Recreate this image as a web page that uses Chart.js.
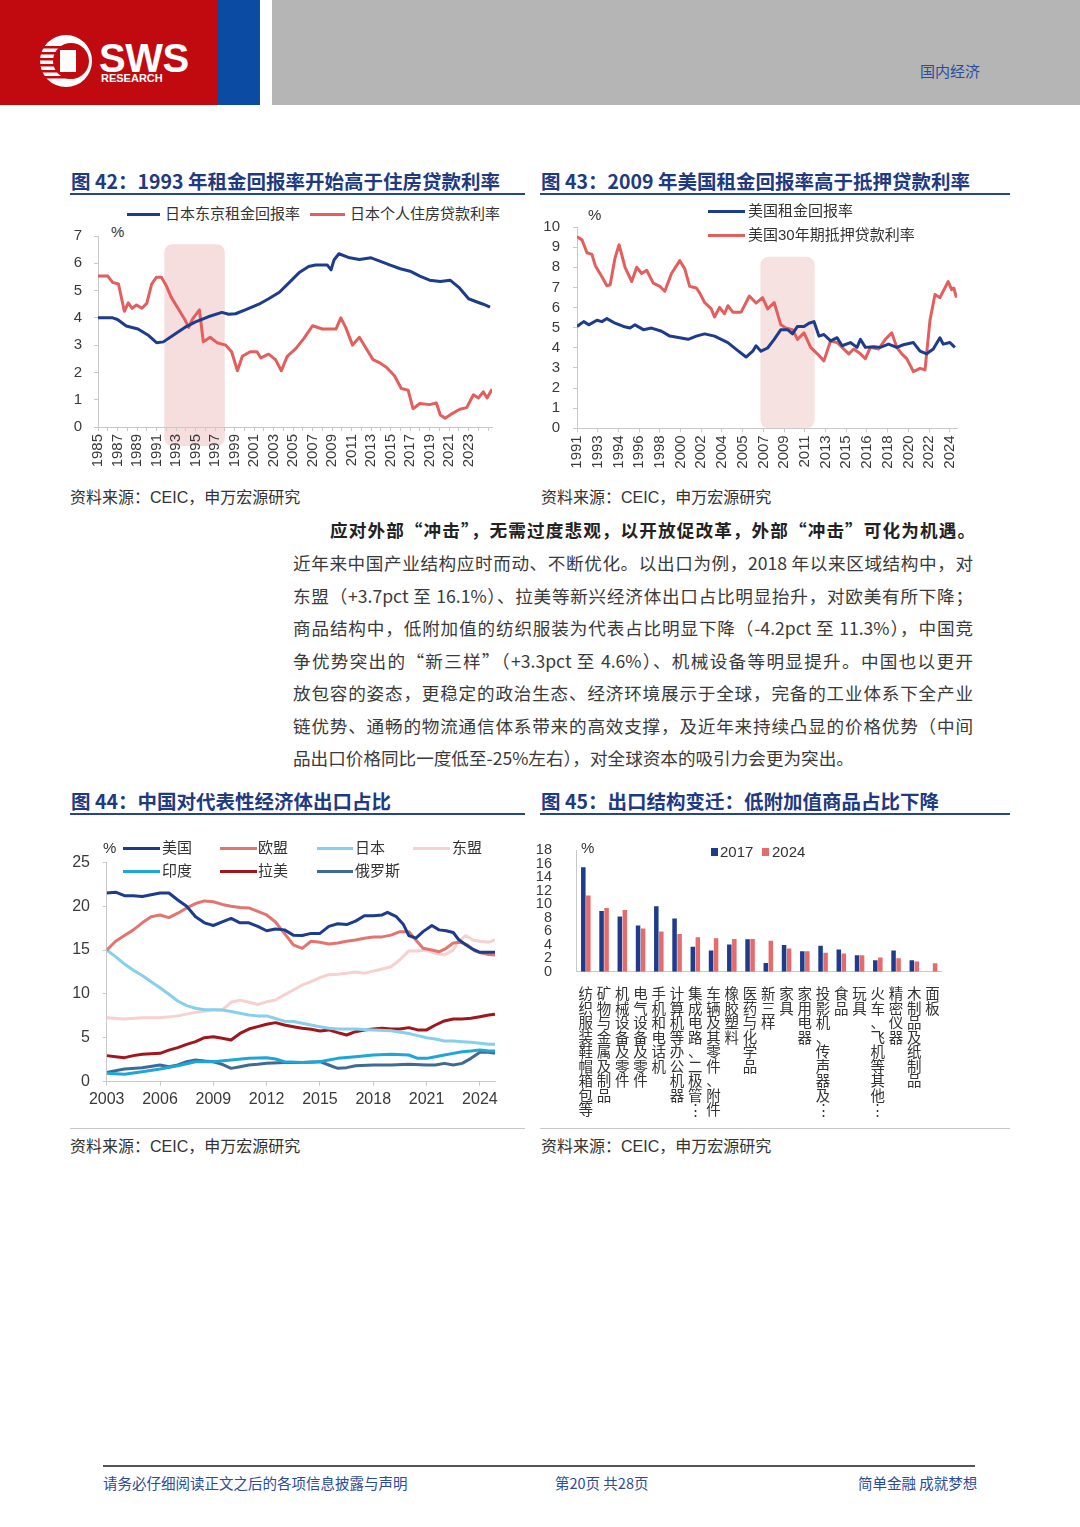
<!DOCTYPE html>
<html lang="zh-CN">
<head>
<meta charset="utf-8">
<title>国内经济</title>
<script src="https://cdn.jsdelivr.net/npm/chart.js@4.4.1/dist/chart.umd.min.js"></script>
<style>
  html, body { margin: 0; padding: 0; background: #fff; }
  body { width: 1080px; height: 1527px; position: relative; overflow: hidden;
         font-family: "Liberation Sans", "Noto Sans CJK SC", sans-serif; color: #333; }
  .abs { position: absolute; }
  .title { position: absolute; font-family: "Noto Sans CJK SC", sans-serif; font-weight: bold;
           font-size: 19.5px; line-height: 24px; color: #1f3a80; white-space: nowrap; }
  .rule { position: absolute; height: 2px; background: #27458c; }
  .src { position: absolute; font-size: 16px; line-height: 20px; color: #333; white-space: nowrap; }
  .leg { position: absolute; font-size: 15px; line-height: 18px; color: #333; white-space: nowrap; }
  .sw { position: absolute; height: 3px; }
  .para { position: absolute; left: 293px; width: 680px; font-family: "Noto Sans CJK SC", sans-serif;
          font-size: 17.6px; line-height: 26px; color: #3a3a3a; text-align: justify; text-align-last: justify; }
  .foot { position: absolute; top: 1474px; font-family: "Noto Sans CJK SC", sans-serif; font-size: 14.5px;
          line-height: 18px; color: #2b4c9c; white-space: nowrap; }
  canvas { position: absolute; }
</style>
</head>
<body>

<!-- header -->
<div class="abs" style="left:0;top:0;width:218px;height:105px;background:#c00a10"></div>
<div class="abs" style="left:218px;top:0;width:42px;height:105px;background:#0b4ba3"></div>
<div class="abs" style="left:272px;top:0;width:808px;height:105px;background:#b5b5b5"></div>
<div class="abs" style="left:920px;top:60px;font-family:'Noto Sans CJK SC';font-size:15px;color:#2b4c9c">国内经济</div>
<svg class="abs" style="left:38px;top:33px" width="60" height="56" viewBox="0 0 60 56">
  <circle cx="28" cy="28" r="26" fill="#fff"/>
  <circle cx="33" cy="28" r="18" fill="#c00a10"/>
  <rect x="22" y="17" width="16" height="22" fill="#fff"/>
  <rect x="2" y="13" width="34" height="2.5" fill="#c00a10"/>
  <rect x="2" y="19" width="20" height="2.5" fill="#c00a10"/>
  <rect x="2" y="25" width="20" height="2.5" fill="#c00a10"/>
  <rect x="2" y="31" width="20" height="2.5" fill="#c00a10"/>
  <rect x="2" y="37" width="20" height="2.5" fill="#c00a10"/>
  <rect x="2" y="43" width="34" height="2.5" fill="#c00a10"/>
</svg>
<div class="abs" style="left:99px;top:36px;font:bold 40px 'Liberation Sans Narrow','Liberation Sans';color:#fff;letter-spacing:-0.5px">SWS</div>
<div class="abs" style="left:101px;top:72px;font:bold 11px 'Liberation Sans Narrow','Liberation Sans';color:#fff">RESEARCH</div>

<!-- figure 42 -->
<div class="title" style="left:71px;top:169px">图 42：1993 年租金回报率开始高于住房贷款利率</div>
<div class="rule" style="left:70px;top:193px;width:455px"></div>
<div class="sw" style="left:127px;top:212.5px;width:33px;background:#1e3c8c"></div>
<div class="leg" style="left:165px;top:205px">日本东京租金回报率</div>
<div class="sw" style="left:310px;top:212.5px;width:35px;background:#e35f5d"></div>
<div class="leg" style="left:350px;top:205px">日本个人住房贷款利率</div>
<div class="leg" style="left:111px;top:223px">%</div>
<canvas id="c42" width="450" height="265" style="left:60px;top:215px"></canvas>
<div class="src" style="left:70px;top:488px">资料来源：CEIC，申万宏源研究</div>

<!-- figure 43 -->
<div class="title" style="left:541px;top:169px">图 43：2009 年美国租金回报率高于抵押贷款利率</div>
<div class="rule" style="left:540px;top:193px;width:470px"></div>
<canvas id="c43" width="470" height="270" style="left:530px;top:205px"></canvas>
<div class="sw" style="left:708px;top:209.5px;width:37px;background:#1e3c8c"></div>
<div class="leg" style="left:748px;top:202px">美国租金回报率</div>
<div class="sw" style="left:708px;top:233.5px;width:37px;background:#e35f5d"></div>
<div class="leg" style="left:748px;top:226px">美国30年期抵押贷款利率</div>
<div class="leg" style="left:588px;top:206px">%</div>
<div class="src" style="left:541px;top:488px">资料来源：CEIC，申万宏源研究</div>

<!-- text -->
<div class="para" style="left:330px;width:645px;top:517px;font-weight:bold;color:#222">应对外部“冲击”，无需过度悲观，以开放促改革，外部“冲击”可化为机遇。</div>
<div class="para" style="top:550px">近年来中国产业结构应时而动、不断优化。以出口为例，2018 年以来区域结构中，对</div>
<div class="para" style="top:582.5px">东盟（+3.7pct 至 16.1%）、拉美等新兴经济体出口占比明显抬升，对欧美有所下降；</div>
<div class="para" style="top:615px">商品结构中，低附加值的纺织服装为代表占比明显下降（-4.2pct 至 11.3%），中国竞</div>
<div class="para" style="top:647.5px">争优势突出的“新三样”（+3.3pct 至 4.6%）、机械设备等明显提升。中国也以更开</div>
<div class="para" style="top:680px">放包容的姿态，更稳定的政治生态、经济环境展示于全球，完备的工业体系下全产业</div>
<div class="para" style="top:713px">链优势、通畅的物流通信体系带来的高效支撑，及近年来持续凸显的价格优势（中间</div>
<div class="para" style="top:745px;text-align:left;text-align-last:left">品出口价格同比一度低至-25%左右），对全球资本的吸引力会更为突出。</div>

<!-- figure 44 -->
<div class="title" style="left:71px;top:789px">图 44：中国对代表性经济体出口占比</div>
<div class="rule" style="left:70px;top:813px;width:455px"></div>
<canvas id="c44" width="450" height="285" style="left:60px;top:840px"></canvas>
<div class="leg" style="left:103px;top:839px">%</div>
<div class="sw" style="left:123px;top:846.5px;width:37px;background:#1e3c8c"></div>
<div class="leg" style="left:162px;top:839px">美国</div>
<div class="sw" style="left:220px;top:846.5px;width:37px;background:#e2756f"></div>
<div class="leg" style="left:258px;top:839px">欧盟</div>
<div class="sw" style="left:317px;top:846.5px;width:36px;background:#86d0ec"></div>
<div class="leg" style="left:355px;top:839px">日本</div>
<div class="sw" style="left:413px;top:846.5px;width:37px;background:#f7d0d0"></div>
<div class="leg" style="left:452px;top:839px">东盟</div>
<div class="sw" style="left:123px;top:869.5px;width:37px;background:#1ea5da"></div>
<div class="leg" style="left:162px;top:862px">印度</div>
<div class="sw" style="left:220px;top:869.5px;width:37px;background:#a1161d"></div>
<div class="leg" style="left:258px;top:862px">拉美</div>
<div class="sw" style="left:317px;top:869.5px;width:36px;background:#3f6a94"></div>
<div class="leg" style="left:355px;top:862px">俄罗斯</div>
<div class="abs" style="left:70px;top:1128px;width:455px;height:1px;background:#c8c8c8"></div>
<div class="src" style="left:70px;top:1137px">资料来源：CEIC，申万宏源研究</div>

<!-- figure 45 -->
<div class="title" style="left:541px;top:789px">图 45：出口结构变迁：低附加值商品占比下降</div>
<div class="rule" style="left:540px;top:813px;width:470px"></div>
<canvas id="c45" width="480" height="300" style="left:530px;top:825px"></canvas>
<div class="leg" style="left:581px;top:839px">%</div>
<div class="abs" style="left:711px;top:848px;width:7px;height:8px;background:#1e3c8c"></div>
<div class="leg" style="left:720px;top:843px">2017</div>
<div class="abs" style="left:762px;top:848px;width:7px;height:8px;background:#e46c6c"></div>
<div class="leg" style="left:772px;top:843px">2024</div>
<div class="abs" style="left:540px;top:1128px;width:470px;height:1px;background:#c8c8c8"></div>
<div class="src" style="left:541px;top:1137px">资料来源：CEIC，申万宏源研究</div>

<!-- footer -->
<div class="abs" style="left:103px;top:1465px;width:872px;height:1.5px;background:#555"></div>
<div class="foot" style="left:103px">请务必仔细阅读正文之后的各项信息披露与声明</div>
<div class="foot" style="left:555px">第20页 共28页</div>
<div class="foot" style="left:858px">简单金融 成就梦想</div>

<script>
// ---- Fig 42: Japan ----
const rentJpX = [1985, 1986.5, 1987, 1987.9, 1989.1, 1990.2, 1991, 1991.7, 1992.9, 1993.9, 1995, 1996.3, 1997.7, 1998.4,
  1999.1, 2000.1, 2001.5, 2002.5, 2003.6, 2004.6, 2005.6, 2006.6, 2007.3, 2008.5, 2008.9, 2009.2, 2009.7, 2010.8, 2011.8,
  2013, 2013.9, 2014.9, 2016, 2017, 2018, 2019, 2020.1, 2021.1, 2022, 2023, 2023.8, 2024.5, 2025.2];
const rentJp = [4.0, 4.0, 3.94, 3.7, 3.59, 3.35, 3.09, 3.12, 3.41, 3.65, 3.85, 4.04, 4.2, 4.13,
  4.15, 4.29, 4.5, 4.7, 4.94, 5.29, 5.65, 5.88, 5.94, 5.94, 5.76, 6.12, 6.35, 6.2, 6.14,
  6.2, 6.08, 5.94, 5.8, 5.71, 5.53, 5.38, 5.33, 5.38, 5.12, 4.7, 4.59, 4.5, 4.39];
const loanJpX = [1985, 1986, 1986.5, 1987.1, 1987.7, 1988.1, 1988.5, 1988.95, 1989.5, 1990, 1990.5, 1991, 1991.5, 1992,
  1992.5, 1993.2, 1993.9, 1994.3, 1994.7, 1995.4, 1995.8, 1996.5, 1997.2, 1998.1, 1998.7, 1999.3, 1999.8, 2000.6, 2001.3,
  2001.7, 2002.5, 2003.2, 2003.8, 2004.4, 2005.3, 2006.1, 2007, 2008, 2008.7, 2009.4, 2009.9, 2010.4, 2011.1, 2011.8,
  2012.5, 2013.2, 2013.9, 2014.6, 2015.4, 2016.1, 2016.8, 2017.3, 2018, 2019, 2019.7, 2020.1, 2020.6, 2021.4, 2022.1,
  2022.8, 2023.5, 2024, 2024.5, 2024.9, 2025.4];
const loanJp = [5.53, 5.53, 5.3, 5.24, 4.24, 4.55, 4.35, 4.47, 4.35, 4.53, 5.24, 5.49, 5.49, 5.18,
  4.76, 4.35, 3.94, 3.65, 3.96, 4.29, 3.12, 3.29, 3.09, 3.0, 2.76, 2.06, 2.59, 2.76, 2.76,
  2.53, 2.67, 2.47, 2.06, 2.59, 2.88, 3.24, 3.71, 3.59, 3.59, 3.59, 4.0, 3.65, 3.0, 3.29,
  2.88, 2.47, 2.35, 2.18, 1.88, 1.41, 1.35, 0.67, 0.86, 0.82, 0.88, 0.44, 0.32, 0.51, 0.65,
  0.71, 1.18, 1.06, 1.29, 1.06, 1.38];
const jpTickLabels = ['1985', '1987', '1989', '1991', '1993', '1995', '1997', '1999', '2001', '2003',
  '2005', '2007', '2009', '2011', '2013', '2015', '2017', '2019', '2021', '2023'];
const jpShade = [1991.8, 1998.0];

// ---- Fig 43: US ----
const rentUsX = [1991.17, 1991.76, 1992.2, 1992.93, 1993.37, 1993.81, 1994.54, 1995.28, 1995.86, 1996.3,
  1997.04, 1997.77, 1998.65, 1999.38, 2000.26, 2001.0, 2001.73, 2002.46, 2003.34, 2003.93,
  2004.52, 2005.4, 2006.13, 2006.72, 2007.01, 2007.45, 2008.04, 2008.62, 2009.21, 2009.8,
  2010.24, 2010.68, 2011.26, 2011.7, 2012.14, 2012.58, 2013.02, 2013.61, 2014.19, 2014.63,
  2015.37, 2015.95, 2016.25, 2016.69, 2017.42, 2018.01, 2018.74, 2019.47, 2020.06, 2020.94,
  2021.53, 2022.11, 2022.7, 2023.29, 2023.58, 2024.17, 2024.61];
const rentUs = [5.06, 5.3, 5.14, 5.37, 5.3, 5.45, 5.22, 5.06, 4.98, 5.14,
  4.9, 4.98, 4.82, 4.58, 4.5, 4.42, 4.58, 4.69, 4.58, 4.42,
  4.26, 3.86, 3.54, 3.83, 4.1, 3.83, 3.99, 4.42, 4.9, 4.9,
  4.69, 5.06, 5.06, 5.22, 5.3, 4.58, 4.66, 4.34, 4.5, 4.1,
  4.26, 4.02, 4.42, 4.02, 4.05, 4.02, 4.18, 4.02, 4.15, 4.26,
  3.83, 3.7, 3.94, 4.5, 4.18, 4.26, 4.02];
const mortUsX = [1991.17, 1991.61, 1992.05, 1992.49, 1992.78, 1993.37, 1993.81, 1994.1, 1994.54, 1994.89,
  1995.42, 1996.01, 1996.45, 1996.89, 1997.33, 1997.92, 1998.5, 1998.94, 1999.53, 2000.26,
  2000.7, 2001.14, 2001.73, 2002.02, 2002.46, 2003.05, 2003.34, 2003.78, 2004.22, 2004.52,
  2004.96, 2005.69, 2006.13, 2006.42, 2007.01, 2007.59, 2008.04, 2008.62, 2009.21, 2009.65,
  2010.24, 2010.68, 2011.26, 2011.85, 2012.44, 2013.02, 2013.61, 2014.19, 2014.63, 2015.22,
  2015.66, 2016.25, 2016.69, 2017.13, 2017.86, 2018.45, 2019.03, 2019.47, 2019.91, 2020.35,
  2020.94, 2021.53, 2021.97, 2022.41, 2022.85, 2023.29, 2024.02, 2024.32, 2024.52, 2024.75];
const mortUs = [9.52, 9.36, 8.72, 8.64, 8.09, 7.53, 7.08, 7.13, 8.48, 9.12,
  8.0, 7.29, 8.0, 7.69, 7.85, 7.21, 7.05, 6.81, 7.69, 8.33,
  7.93, 7.05, 6.97, 6.73, 6.25, 5.93, 5.53, 6.01, 5.69, 6.09,
  5.77, 5.77, 6.25, 6.57, 6.22, 6.49, 5.93, 6.25, 5.14, 4.98,
  4.9, 4.42, 4.74, 4.02, 3.7, 3.35, 4.34, 4.26, 4.02, 3.7,
  3.94, 3.7, 3.46, 4.02, 3.94, 4.42, 4.74, 4.02, 3.7, 3.46,
  2.82, 2.98, 2.9, 5.37, 6.65, 6.49, 7.29, 6.89, 6.97, 6.49];
const usTickLabels = ['1991', '1993', '1994', '1996', '1998', '2000', '2002', '2004', '2005', '2007',
  '2009', '2011', '2013', '2015', '2016', '2018', '2020', '2022', '2024'];
const usTickStart = 1991 + 2 / 12;   // first label sits on Mar-1991
const usTickStep = 22 / 12;          // one label every 22 months
const usShade = [2007.4, 2012.2];

// ---- Fig 44: export shares ----
const usShareX = [2003, 2003.5, 2004, 2004.5, 2005, 2006, 2006.5, 2007, 2007.5, 2008, 2008.5, 2009, 2009.5, 2010,
  2010.5, 2011, 2011.5, 2012, 2012.5, 2013, 2013.5, 2014, 2014.5, 2015, 2015.5, 2016, 2016.5, 2017, 2017.5, 2018,
  2018.5, 2018.8, 2019.3, 2019.7, 2020, 2020.4, 2020.8, 2021.3, 2021.7, 2022.1, 2022.5, 2022.8, 2023.2, 2023.6,
  2024, 2024.5, 2024.85];
const usShare = [21.5, 21.6, 21.2, 21.2, 21.1, 21.5, 21.5, 20.7, 20.0, 18.8, 18.1, 17.8, 18.2, 18.6,
  18.1, 18.1, 17.7, 17.2, 17.4, 17.3, 16.7, 16.65, 16.9, 16.9, 17.7, 18.0, 17.9, 18.3, 18.9, 18.9,
  19.0, 19.3, 18.8, 17.9, 16.65, 16.35, 17.1, 17.8, 17.3, 17.2, 17.0, 16.2, 15.6, 15.1,
  14.75, 14.75, 14.75];
const euShareX = [2003, 2003.5, 2004, 2004.5, 2005, 2005.5, 2006, 2006.5, 2007, 2007.5, 2008, 2008.5, 2009, 2009.5,
  2010, 2010.5, 2011, 2011.5, 2012, 2012.5, 2013, 2013.5, 2014, 2014.5, 2015, 2015.5, 2016, 2016.5, 2017, 2017.5,
  2018, 2018.5, 2019, 2019.5, 2020, 2020.4, 2020.8, 2021.3, 2021.7, 2022.1, 2022.5, 2022.9, 2023.3, 2023.7,
  2024.1, 2024.5, 2024.85];
const euShare = [15.0, 16.0, 16.65, 17.3, 18.1, 18.8, 19.0, 18.7, 19.2, 19.8, 20.3, 20.6, 20.5, 20.2,
  20.0, 19.85, 19.8, 19.4, 19.0, 18.2, 16.9, 15.6, 15.2, 16.0, 15.9, 15.7, 15.8, 16.0, 16.15, 16.35,
  16.5, 16.5, 16.7, 17.1, 17.1, 16.15, 15.2, 15.0, 14.8, 15.2, 15.8, 15.9, 15.6, 14.9,
  14.65, 14.5, 14.45];
const jpShareX = [2003, 2003.5, 2004, 2004.5, 2005, 2005.5, 2006, 2006.5, 2007, 2007.5, 2008, 2008.5, 2009, 2009.5,
  2010, 2010.5, 2011, 2011.5, 2012, 2012.5, 2013, 2013.5, 2014, 2014.5, 2015, 2015.5, 2016, 2017, 2018, 2019,
  2020, 2020.5, 2021, 2021.5, 2022, 2022.5, 2023, 2023.5, 2024, 2024.5, 2024.85];
const jpShare = [15.0, 14.25, 13.4, 12.7, 12.1, 11.4, 10.7, 9.96, 9.2, 8.67, 8.37, 8.2, 8.2, 8.17,
  8.0, 7.8, 7.6, 7.5, 7.5, 7.2, 6.9, 6.85, 6.65, 6.46, 6.27, 6.1, 6.0, 6.0, 5.9, 5.8,
  5.5, 5.25, 5.0, 4.87, 4.64, 4.64, 4.56, 4.5, 4.37, 4.26, 4.26];
const aseanShareX = [2003, 2004, 2005, 2006, 2007, 2008, 2009, 2009.5, 2010, 2010.5, 2011, 2011.5, 2012, 2012.5,
  2013, 2013.5, 2014, 2014.5, 2015, 2015.5, 2016, 2016.5, 2017, 2017.5, 2018, 2018.5, 2019, 2019.5, 2020, 2020.5,
  2021, 2021.5, 2022, 2022.5, 2022.8, 2023.2, 2023.6, 2024, 2024.5, 2024.85];
const aseanShare = [7.3, 7.15, 7.3, 7.3, 7.5, 7.9, 8.17, 8.17, 9.05, 9.3, 9.05, 8.8, 9.1, 9.3,
  9.9, 10.45, 11.0, 11.4, 11.85, 12.2, 12.25, 12.35, 12.5, 12.35, 12.6, 12.85, 13.1, 13.9, 14.9, 14.9,
  15.0, 14.6, 14.45, 15.0, 16.0, 16.65, 16.15, 16.0, 15.9, 16.15];
const indiaShareX = [2003, 2004, 2005, 2006, 2007, 2008, 2009, 2010, 2011, 2012, 2012.5, 2013, 2014, 2015, 2015.5,
  2016, 2017, 2018, 2019, 2020, 2020.5, 2021, 2021.5, 2022, 2022.5, 2023, 2023.5, 2024, 2024.5, 2024.85];
const indiaShare = [0.95, 0.84, 1.14, 1.44, 1.82, 2.28, 2.28, 2.47, 2.66, 2.74, 2.59, 2.28, 2.2, 2.28, 2.47,
  2.66, 2.85, 3.04, 3.12, 3.04, 2.66, 2.66, 2.85, 3.04, 3.23, 3.42, 3.5, 3.61, 3.5, 3.5];
const latamShareX = [2003, 2003.5, 2004, 2004.5, 2005, 2006, 2006.5, 2007, 2007.5, 2008, 2008.5, 2009, 2009.5, 2010,
  2010.5, 2011, 2011.5, 2012, 2012.5, 2013, 2013.5, 2014, 2014.5, 2015, 2015.5, 2016, 2016.5, 2017, 2017.5, 2018,
  2018.5, 2019, 2019.5, 2020, 2020.5, 2021, 2021.5, 2022, 2022.5, 2023, 2023.5, 2024, 2024.5, 2024.85];
const latamShare = [2.97, 2.85, 2.74, 2.97, 3.12, 3.23, 3.6, 3.88, 4.26, 4.56, 5.02, 5.13, 4.94, 4.75,
  5.5, 6.0, 6.27, 6.54, 6.73, 6.46, 6.27, 6.08, 5.97, 5.78, 5.9, 5.59, 5.32, 5.7, 5.9, 6.0,
  6.08, 6.0, 6.0, 6.16, 5.9, 5.9, 6.46, 6.92, 7.15, 7.15, 7.22, 7.41, 7.6, 7.68];
const ruShareX = [2003, 2004, 2005, 2006, 2006.5, 2007, 2007.5, 2008, 2008.5, 2009, 2009.5, 2010, 2010.5, 2011,
  2011.5, 2012, 2013, 2014, 2015, 2015.5, 2016, 2016.5, 2017, 2018, 2019, 2020, 2021, 2021.5, 2022, 2022.5,
  2023, 2023.5, 2024, 2024.5, 2024.85];
const ruShare = [1.06, 1.44, 1.6, 1.9, 1.71, 1.9, 2.28, 2.47, 2.36, 2.28, 1.98, 1.52, 1.71, 1.9,
  1.98, 2.09, 2.2, 2.2, 2.28, 1.9, 1.52, 1.6, 1.82, 1.9, 1.9, 1.98, 1.9, 1.9, 2.09, 1.9,
  2.09, 2.66, 3.35, 3.35, 3.23];
const cnTickYears = [2003, 2006, 2009, 2012, 2015, 2018, 2021, 2024];

// ---- Fig 45: export structure ----
const goodsCats = ['纺织服装鞋帽箱包等', '矿物与金属及制品', '机械设备及零件', '电气设备及零件', '手机和电话机',
  '计算机等办公机器', '集成电路、二极管…', '车辆及其零件、附件', '橡胶塑料', '医药与化学品', '新三样', '家具',
  '家用电器', '投影机、传声器及…', '食品', '玩具', '火车、飞机等其他…', '精密仪器', '木制品及纸制品', '面板'];
const goods2017 = [15.5, 9.0, 8.2, 6.85, 9.7, 7.9, 3.7, 3.15, 4.05, 4.8, 1.3, 3.95, 3.05, 3.85, 3.3, 2.45, 1.7, 3.15, 1.7, null];
const goods2024 = [11.3, 9.45, 9.15, 6.4, 5.95, 5.6, 5.1, 4.95, 4.85, 4.85, 4.6, 3.45, 3.05, 2.8, 2.7, 2.45, 2.1, 2.0, 1.5, 1.25];

const NAVY = '#1e3c8c';
const RED = '#e35f5d';
const AXIS = '#c9c9c9';

Chart.defaults.font.family = '"Liberation Sans", "Noto Sans CJK SC", sans-serif';
Chart.defaults.color = '#3a3a3a';

// pink band behind the lines
const shadePlugin = {
  id: 'shade',
  beforeDraw(chart, args, opts) {
    const { ctx, scales: { x, y } } = chart;
    const x0 = x.getPixelForValue(opts.range[0]);
    const x1 = x.getPixelForValue(opts.range[1]);
    const y0 = y.getPixelForValue(opts.top);
    const y1 = y.getPixelForValue(opts.bottom);
    ctx.save();
    ctx.fillStyle = opts.color;
    ctx.beginPath();
    ctx.roundRect(x0, y0, x1 - x0, y1 - y0, 8);
    ctx.fill();
    ctx.restore();
  }
};

function lineSet(label, xs, ys, color, width) {
  return {
    label: label,
    data: xs.map((x, i) => ({ x: x, y: ys[i] })),
    borderColor: color,
    backgroundColor: color,
    borderWidth: width,
    pointRadius: 0,
    tension: 0,
    borderJoinStyle: 'round'
  };
}

const tickMarks = { display: true, drawOnChartArea: false, drawTicks: true, tickLength: 4, color: AXIS };
const axisBorder = { display: true, color: AXIS, width: 1 };
const noPlugins = { legend: { display: false }, tooltip: { enabled: false } };

// Fig 42
new Chart(document.getElementById('c42'), {
  type: 'line',
  data: {
    datasets: [
      lineSet('日本东京租金回报率', rentJpX, rentJp, NAVY, 3),
      lineSet('日本个人住房贷款利率', loanJpX, loanJp, RED, 3)
    ]
  },
  options: {
    responsive: false,
    animation: false,
    layout: { padding: { top: 13, right: 18, left: 0, bottom: 0 } },
    plugins: Object.assign({ shade: { range: jpShade, top: 6.7, bottom: -0.7, color: '#f6dede' } }, noPlugins),
    scales: {
      x: {
        type: 'linear', min: 1985, max: 2025.4,
        afterBuildTicks: s => {
          const t = [];
          for (let v = 1985; v <= 2025; v++) t.push({ value: v });
          s.ticks = t;
        },
        afterFit: s => { s.height = 53; },
        grid: tickMarks, border: axisBorder,
        ticks: {
          autoSkip: false, minRotation: 90, maxRotation: 90, padding: 3, font: { size: 15 },
          callback: v => (jpTickLabels.includes(String(v)) ? String(v) : '')
        }
      },
      y: {
        min: 0, max: 7,
        afterFit: s => { s.width = 38; },
        grid: tickMarks, border: axisBorder,
        ticks: { stepSize: 1, autoSkip: false, padding: 12, font: { size: 15 } }
      }
    }
  },
  plugins: [shadePlugin]
});

// Fig 43
new Chart(document.getElementById('c43'), {
  type: 'line',
  data: {
    datasets: [
      lineSet('美国租金回报率', rentUsX, rentUs, NAVY, 3),
      lineSet('美国30年期抵押贷款利率', mortUsX, mortUs, RED, 3)
    ]
  },
  options: {
    responsive: false,
    animation: false,
    layout: { padding: { top: 13.3, right: 43, left: 0, bottom: 0 } },
    plugins: Object.assign({ shade: { range: usShade, top: 8.52, bottom: 0, color: '#f7e2e2' } }, noPlugins),
    scales: {
      x: {
        type: 'linear', min: usTickStart, max: 2024.8,
        afterBuildTicks: s => { s.ticks = usTickLabels.map((_, i) => ({ value: usTickStart + i * usTickStep })); },
        afterFit: s => { s.height = 46.7; },
        grid: tickMarks, border: axisBorder,
        ticks: {
          autoSkip: false, minRotation: 90, maxRotation: 90, padding: 3, font: { size: 15 },
          callback: (v, i) => usTickLabels[i] || ''
        }
      },
      y: {
        min: 0, max: 10,
        afterFit: s => { s.width = 47; },
        grid: tickMarks, border: axisBorder,
        ticks: { stepSize: 1, autoSkip: false, padding: 13, font: { size: 15 } }
      }
    }
  },
  plugins: [shadePlugin]
});

// Fig 44
new Chart(document.getElementById('c44'), {
  type: 'line',
  data: {
    datasets: [
      lineSet('美国', usShareX, usShare, NAVY, 3),
      lineSet('欧盟', euShareX, euShare, '#e2756f', 3),
      lineSet('日本', jpShareX, jpShare, '#86d0ec', 3),
      lineSet('东盟', aseanShareX, aseanShare, '#f7d0d0', 3),
      lineSet('印度', indiaShareX, indiaShare, '#1ea5da', 3),
      lineSet('拉美', latamShareX, latamShare, '#a1161d', 3),
      lineSet('俄罗斯', ruShareX, ruShare, '#3f6a94', 3)
    ]
  },
  options: {
    responsive: false,
    animation: false,
    layout: { padding: { top: 22.3, right: 15, left: 0, bottom: 0 } },
    plugins: noPlugins,
    scales: {
      x: {
        type: 'linear', min: 2003, max: 2024.85,
        afterBuildTicks: s => { s.ticks = cnTickYears.map(v => ({ value: v })); },
        afterFit: s => { s.height = 43.3; },
        grid: tickMarks, border: axisBorder,
        ticks: { autoSkip: false, maxRotation: 0, padding: 4, font: { size: 16 }, callback: v => String(v) }
      },
      y: {
        min: 0, max: 25,
        afterFit: s => { s.width = 46.7; },
        grid: tickMarks, border: axisBorder,
        ticks: { stepSize: 5, autoSkip: false, padding: 12.7, font: { size: 16 } }
      }
    }
  }
});

// Fig 45
new Chart(document.getElementById('c45'), {
  type: 'bar',
  data: {
    labels: goodsCats,
    datasets: [
      { label: '2017', data: goods2017, backgroundColor: NAVY, categoryPercentage: 0.55, barPercentage: 0.9 },
      { label: '2024', data: goods2024, backgroundColor: '#e46c6c', categoryPercentage: 0.55, barPercentage: 0.9 }
    ]
  },
  options: {
    responsive: false,
    animation: false,
    layout: { padding: { top: 13.3, right: 68.3, left: 0, bottom: 0 } },
    plugins: noPlugins,
    scales: {
      x: {
        afterFit: s => { s.height = 153.3; },
        grid: { display: false }, border: axisBorder,
        ticks: {
          autoSkip: false, maxRotation: 0, minRotation: 0, padding: 7,
          font: { size: 14.5, lineHeight: 1.0, family: '"Noto Sans CJK SC", sans-serif' }, color: '#333',
          // stack the characters to read top-down like the original
          callback: (v, i) => Array.from(goodsCats[i].replace('…', '⋮'))
        }
      },
      y: {
        min: 0, max: 18,
        afterFit: s => { s.width = 46.7; },
        grid: { display: false }, border: axisBorder,
        ticks: { stepSize: 2, autoSkip: false, padding: 16.7, font: { size: 14.5 } }
      }
    }
  }
});
</script>
</body>
</html>
